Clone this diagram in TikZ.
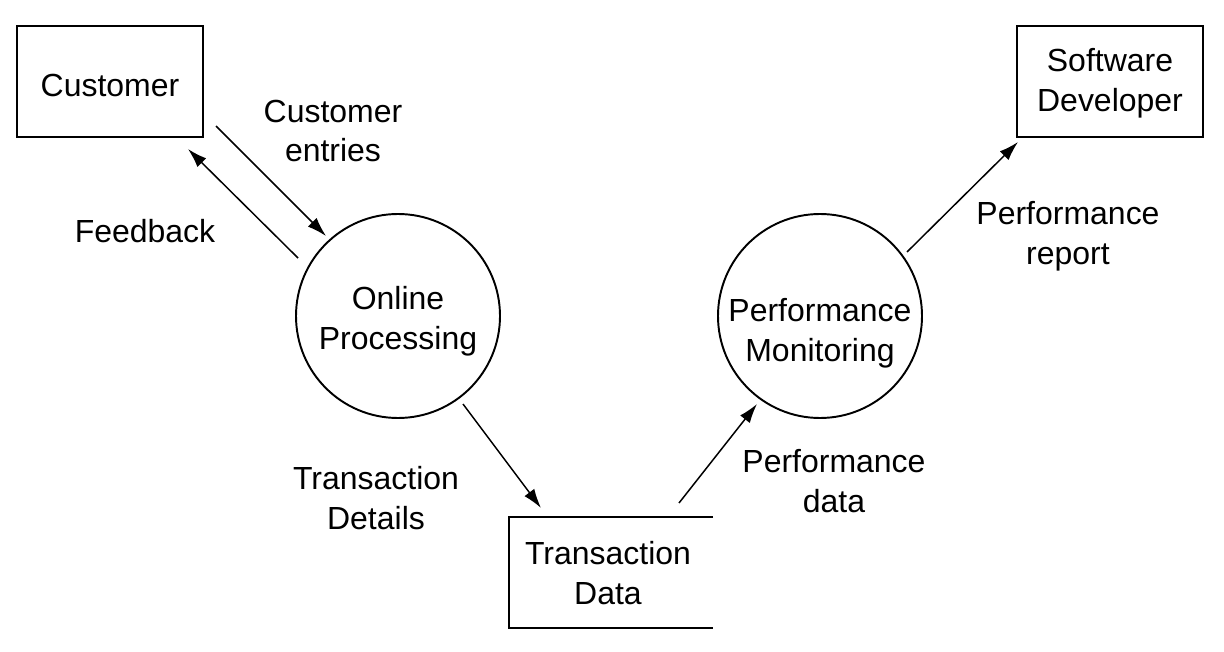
\documentclass[tikz,border=0pt]{standalone}
\usepackage{fontspec}
\setmainfont{Liberation Sans}
\usetikzlibrary{arrows.meta}
\begin{document}
\begin{tikzpicture}[x=0.02cm,y=-0.02cm,
  txt/.style={font=\fontsize{18.2}{22.6}\selectfont, align=center, inner sep=0pt},
  ent/.style={draw, line width=1.1pt, minimum width=186*0.02cm, minimum height=111*0.02cm},
  proc/.style={draw, circle, line width=1.1pt, minimum size=204*0.02cm, inner sep=0pt},
  flow/.style={line width=0.85pt, -{Latex[length=11pt,width=7pt]}}]
\useasboundingbox (0,0) rectangle (1224,652);
\node[ent] (cust) at (110,81.5) {};
\node[txt] (custt) at (110,85) {Customer};
\node[ent] (dev) at (1110,81.5) {};
\node[txt] (devt) at (1110,83) {Software\\Developer};
\node[proc] (op) at (398,316) {};
\node[txt] (opt) at (398,321) {Online\\Processing};
\node[proc] (pm) at (820,316) {};
\node[txt] (pmt) at (820,333) {Performance\\Monitoring};
\draw[line width=1.1pt] (713,517) -- (509,517) -- (509,628) -- (713,628);
\node[txt] (td) at (608,573) {Transaction\\Data};
% labels
\node[txt] (l1) at (333,131) {Customer\\entries};
\node[txt] (l2) at (145,231) {Feedback};
\node[txt] (l3) at (376,498) {Transaction\\Details};
\node[txt] (l4) at (834,481) {Performance\\data};
\node[txt] (l5) at (1068,236) {Performance\\report};
% connector ends
\coordinate (a1) at (216,126); \coordinate (b1) at (326,236);
\coordinate (a2) at (298,258); \coordinate (b2) at (188,149);
\coordinate (a3) at (463,404); \coordinate (b3) at (541,508);
\coordinate (a4) at (679,503); \coordinate (b4) at (757,404);
\coordinate (a5) at (907,252); \coordinate (b5) at (1018,142);
\draw[flow] (a1) -- (b1);
\draw[flow] (a2) -- (b2);
\draw[flow] (a3) -- (b3);
\draw[flow] (a4) -- (b4);
\draw[flow] (a5) -- (b5);
\end{tikzpicture}
\end{document}
